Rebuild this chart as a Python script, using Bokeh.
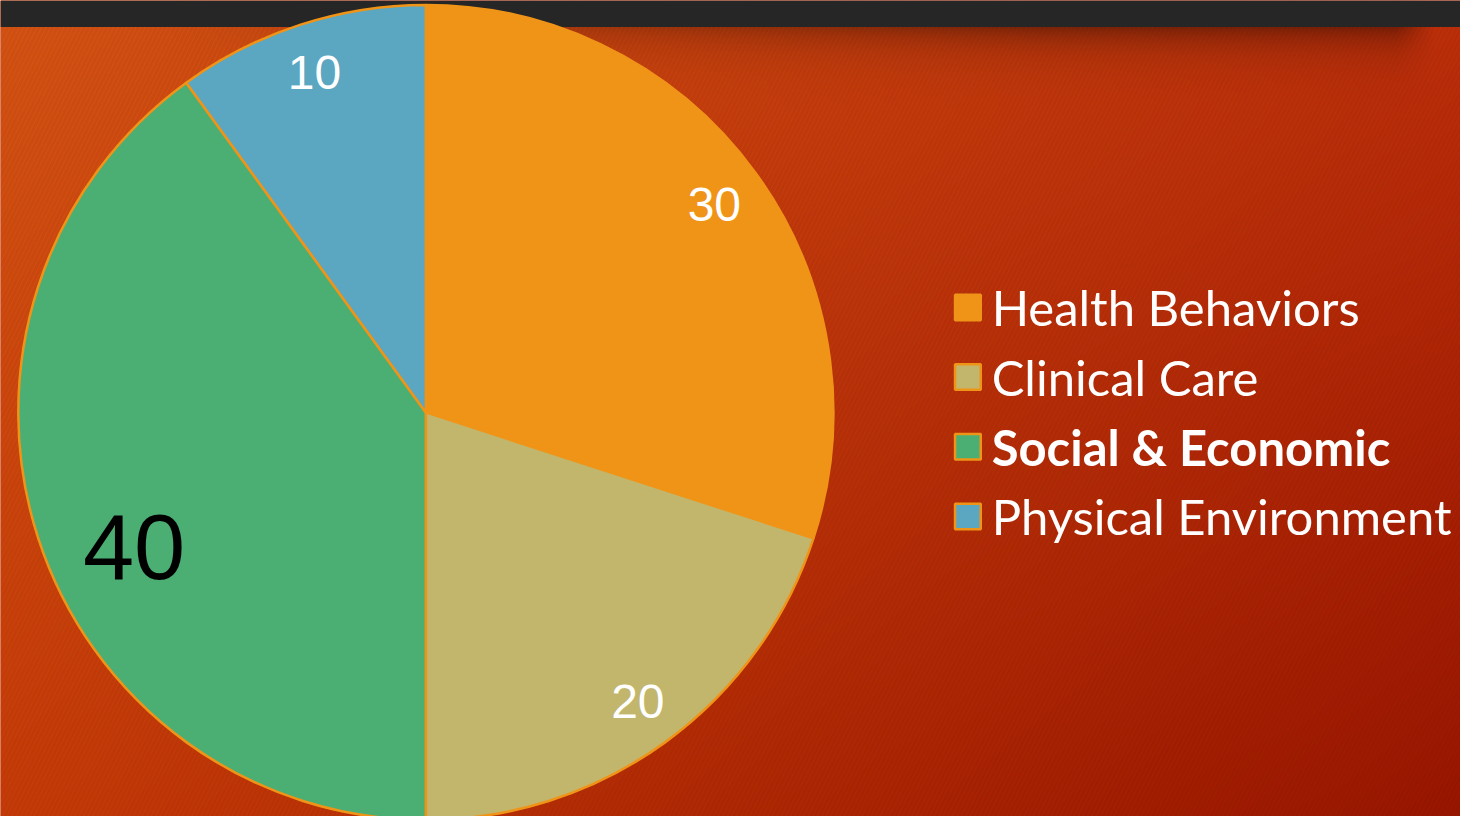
import numpy as np
from bokeh.plotting import figure
from bokeh.models import Range1d, ColumnDataSource
from bokeh.core.properties import value
from bokeh.embed import file_html
from bokeh.resources import INLINE

categories = ["Health Behaviors", "Clinical Care", "Social & Economic", "Physical Environment"]
values = [30, 20, 40, 10]
colors = ["#F09418", "#C2B66C", "#4BAF74", "#5BA6C0"]
label_colors = ["white", "white", "black", "white"]
label_sizes = ["48px", "48px", "92px", "48px"]
legend_styles = ["normal", "normal", "bold", "normal"]

# data space mirrors the 1476x832 slide; figure fits the page
XW, YH = 1476, 832
p = figure(width=1460, height=816, x_range=Range1d(0, XW), y_range=Range1d(0, YH),
           output_backend="svg", toolbar_location=None, min_border=0)
p.axis.visible = False
p.grid.visible = False
p.outline_line_color = None
p.background_fill_color = "#C53008"
p.border_fill_color = "#C53008"

# background gradient (decorative)
hw, hh = XW // 2, YH // 2
xs = (np.arange(hw) + 0.5) * 2
ys = (np.arange(hh) + 0.5) * 2
X, Y = np.meshgrid(xs, ys)
u = X / XW
v = (YH - Y) / YH
TL = np.array([217, 85, 20.0]); TR = np.array([194, 48, 10.0])
BL = np.array([202, 60, 8.0]); BR = np.array([156, 22, 0.0])
col = (((1 - u) * (1 - v))[..., None] * TL + (u * (1 - v))[..., None] * TR
       + ((1 - u) * v)[..., None] * BL + (u * v)[..., None] * BR)
d = np.maximum((YH - Y) - 27, 0)
s = 0.38 * np.exp(-d / 20.0) * np.clip((X - 150) / 900, 0, 1) * np.clip((1450 - X) / 40, 0, 1)
col = col * (1 - s)[..., None]
img = np.empty((hh, hw), dtype=np.uint32)
view = img.view(dtype=np.uint8).reshape((hh, hw, 4))
view[..., 0] = np.clip(col[..., 0], 0, 255).astype(np.uint8)
view[..., 1] = np.clip(col[..., 1], 0, 255).astype(np.uint8)
view[..., 2] = np.clip(col[..., 2], 0, 255).astype(np.uint8)
view[..., 3] = 255
p.image_rgba(image=[img], x=0, y=0, dw=XW, dh=YH)

# subtle diagonal stripes
p.quad(left=0, right=XW, bottom=0, top=YH, fill_alpha=0, line_color=None,
       hatch_pattern="/", hatch_color="black", hatch_alpha=0.05, hatch_scale=9, hatch_weight=3)

# top dark bar
p.quad(left=0, right=XW, bottom=YH - 27, top=YH, fill_color="#262626", line_color=None)

# pie
cx, cy, r = 430, 412, 412
total = float(sum(values))
starts, ends, mids = [], [], []
a = 90.0
for val in values:
    b = a - val / total * 360.0
    starts.append(a); ends.append(b); mids.append((a + b) / 2)
    a = b
src = ColumnDataSource(dict(start=np.radians(ends), end=np.radians(starts), color=colors))
p.wedge(x=cx, y=cy, radius=r, start_angle="start", end_angle="end",
        direction="anticlock", fill_color="color", line_color="#F09418", line_width=2.5, source=src)

# labels
frac = [0.875, 0.885, 0.79, 0.885]
aoff = [0, 0, 7, 0]
lx = [cx + f * r * np.cos(np.radians(m + o)) for f, m, o in zip(frac, mids, aoff)]
ly = [cy + f * r * np.sin(np.radians(m + o)) for f, m, o in zip(frac, mids, aoff)]
lsrc = ColumnDataSource(dict(x=lx, y=ly, t=[str(v_) for v_ in values], c=label_colors, s=label_sizes))
p.text(x="x", y="y", text="t", text_color="c", text_font_size="s", text_align="center",
       text_baseline="middle", text_font=value("Liberation Sans"), source=lsrc)

# legend
ry = [YH - 313 - 71 * i for i in range(len(categories))]
gsrc = ColumnDataSource(dict(y=ry, c=colors, t=categories, st=legend_styles))
p.rect(x=978, y="y", width=26, height=26, fill_color="c", line_color="#F09418", line_width=2.5, source=gsrc)
p.text(x=1002, y="y", text="t", text_color="white", text_font_size="49px", text_font_style="st",
       text_baseline="middle", text_font=value("Lato"), source=gsrc)

open("out.html", "w").write(file_html(p, INLINE))
